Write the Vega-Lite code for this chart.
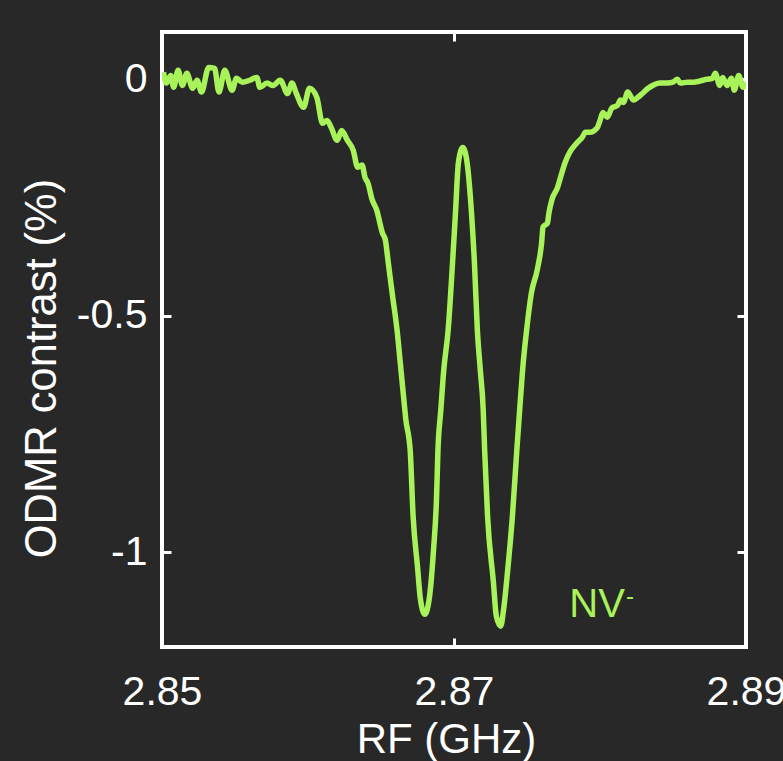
{
  "$schema": "https://vega.github.io/schema/vega-lite/v6.json",
  "width": 584,
  "height": 615,
  "autosize": {"type": "none"},
  "padding": {"left": 162, "top": 32, "right": 37, "bottom": 114},
  "background": "#282828",
  "config": {
    "font": "Liberation Sans",
    "view": {"stroke": "#ffffff", "strokeWidth": 4, "fill": "#282828"},
    "axis": {
      "domain": false,
      "grid": false,
      "tickColor": "#ffffff",
      "tickWidth": 3,
      "tickSize": -9,
      "labelColor": "#ffffff",
      "labelFont": "Liberation Sans",
      "labelFontSize": 41,
      "titleColor": "#ffffff",
      "titleFont": "Liberation Sans",
      "titleFontSize": 42,
      "titleFontWeight": "normal",
      "labelOverlap": false,
      "labelBound": false,
      "labelFlush": false
    }
  },
  "datasets": {
    "odmr": [
      {"rf": 2.8501, "c": 0.015}, {"rf": 2.8503, "c": -0.008}, {"rf": 2.8506, "c": 0.008}, {"rf": 2.8508, "c": -0.017},
      {"rf": 2.8511, "c": 0.019}, {"rf": 2.8514, "c": -0.013}, {"rf": 2.8517, "c": 0.013}, {"rf": 2.8521, "c": -0.019},
      {"rf": 2.8524, "c": -0.002}, {"rf": 2.8527, "c": -0.027}, {"rf": 2.8532, "c": 0.025}, {"rf": 2.8536, "c": 0.023},
      {"rf": 2.8539, "c": -0.027}, {"rf": 2.8543, "c": 0.019}, {"rf": 2.8548, "c": -0.023}, {"rf": 2.8551, "c": 0.002},
      {"rf": 2.8555, "c": -0.006}, {"rf": 2.8560, "c": -0.002}, {"rf": 2.8565, "c": 0.004}, {"rf": 2.8567, "c": -0.017},
      {"rf": 2.8572, "c": -0.008}, {"rf": 2.8576, "c": -0.013}, {"rf": 2.8581, "c": -0.002}, {"rf": 2.8586, "c": -0.030},
      {"rf": 2.8589, "c": -0.008}, {"rf": 2.8592, "c": -0.030}, {"rf": 2.8597, "c": -0.059}, {"rf": 2.8601, "c": -0.019},
      {"rf": 2.8606, "c": -0.038}, {"rf": 2.8610, "c": -0.093}, {"rf": 2.8613, "c": -0.087}, {"rf": 2.8616, "c": -0.103},
      {"rf": 2.8620, "c": -0.129}, {"rf": 2.8623, "c": -0.108}, {"rf": 2.8627, "c": -0.129}, {"rf": 2.8631, "c": -0.150},
      {"rf": 2.8634, "c": -0.186}, {"rf": 2.8637, "c": -0.181}, {"rf": 2.8639, "c": -0.207}, {"rf": 2.8641, "c": -0.219},
      {"rf": 2.8644, "c": -0.255}, {"rf": 2.8647, "c": -0.276}, {"rf": 2.8651, "c": -0.325}, {"rf": 2.8653, "c": -0.340},
      {"rf": 2.8655, "c": -0.388}, {"rf": 2.8658, "c": -0.460}, {"rf": 2.8661, "c": -0.530}, {"rf": 2.8663, "c": -0.593},
      {"rf": 2.8665, "c": -0.656}, {"rf": 2.8667, "c": -0.719}, {"rf": 2.8670, "c": -0.785}, {"rf": 2.8672, "c": -0.924},
      {"rf": 2.8675, "c": -1.030}, {"rf": 2.8677, "c": -1.099}, {"rf": 2.8680, "c": -1.131}, {"rf": 2.8683, "c": -1.099},
      {"rf": 2.8686, "c": -0.994}, {"rf": 2.8688, "c": -0.888}, {"rf": 2.8689, "c": -0.785}, {"rf": 2.8691, "c": -0.698},
      {"rf": 2.8693, "c": -0.614}, {"rf": 2.8696, "c": -0.530}, {"rf": 2.8699, "c": -0.388}, {"rf": 2.8701, "c": -0.283},
      {"rf": 2.8703, "c": -0.177}, {"rf": 2.8706, "c": -0.144}, {"rf": 2.8709, "c": -0.177}, {"rf": 2.8712, "c": -0.283},
      {"rf": 2.8714, "c": -0.388}, {"rf": 2.8716, "c": -0.530}, {"rf": 2.8718, "c": -0.614}, {"rf": 2.8720, "c": -0.698},
      {"rf": 2.8721, "c": -0.785}, {"rf": 2.8723, "c": -0.924}, {"rf": 2.8727, "c": -1.063}, {"rf": 2.8729, "c": -1.135},
      {"rf": 2.8732, "c": -1.156}, {"rf": 2.8734, "c": -1.120}, {"rf": 2.8737, "c": -1.030}, {"rf": 2.8740, "c": -0.924},
      {"rf": 2.8743, "c": -0.785}, {"rf": 2.8745, "c": -0.698}, {"rf": 2.8747, "c": -0.614}, {"rf": 2.8750, "c": -0.523},
      {"rf": 2.8753, "c": -0.452}, {"rf": 2.8757, "c": -0.403}, {"rf": 2.8760, "c": -0.346}, {"rf": 2.8761, "c": -0.312},
      {"rf": 2.8764, "c": -0.304}, {"rf": 2.8765, "c": -0.283}, {"rf": 2.8767, "c": -0.255}, {"rf": 2.8771, "c": -0.228},
      {"rf": 2.8773, "c": -0.207}, {"rf": 2.8776, "c": -0.177}, {"rf": 2.8779, "c": -0.156}, {"rf": 2.8784, "c": -0.135},
      {"rf": 2.8788, "c": -0.122}, {"rf": 2.8790, "c": -0.112}, {"rf": 2.8793, "c": -0.112}, {"rf": 2.8798, "c": -0.103},
      {"rf": 2.8800, "c": -0.087}, {"rf": 2.8802, "c": -0.070}, {"rf": 2.8805, "c": -0.080}, {"rf": 2.8808, "c": -0.061},
      {"rf": 2.8812, "c": -0.055}, {"rf": 2.8814, "c": -0.044}, {"rf": 2.8816, "c": -0.049}, {"rf": 2.8819, "c": -0.027},
      {"rf": 2.8823, "c": -0.044}, {"rf": 2.8826, "c": -0.038}, {"rf": 2.8829, "c": -0.030}, {"rf": 2.8833, "c": -0.019},
      {"rf": 2.8836, "c": -0.013}, {"rf": 2.8841, "c": -0.008}, {"rf": 2.8846, "c": -0.008}, {"rf": 2.8850, "c": -0.006},
      {"rf": 2.8853, "c": 0.000}, {"rf": 2.8855, "c": -0.008}, {"rf": 2.8860, "c": -0.006}, {"rf": 2.8864, "c": -0.006},
      {"rf": 2.8868, "c": -0.004}, {"rf": 2.8873, "c": 0.000}, {"rf": 2.8877, "c": 0.002}, {"rf": 2.8879, "c": 0.013},
      {"rf": 2.8882, "c": -0.013}, {"rf": 2.8884, "c": 0.004}, {"rf": 2.8887, "c": -0.013}, {"rf": 2.8890, "c": 0.002},
      {"rf": 2.8892, "c": -0.023}, {"rf": 2.8895, "c": 0.008}, {"rf": 2.8898, "c": -0.017}, {"rf": 2.8900, "c": -0.006}
    ],
    "labels": [
      {"rf": 2.8779, "c": -1.137, "t": "NV", "size": 40},
      {"rf": 2.88178, "c": -1.1097, "t": "-", "size": 24}
    ]
  },
  "layer": [
    {
      "data": {"name": "odmr"},
      "mark": {"type": "line", "color": "#a8f25a", "strokeWidth": 5.5, "interpolate": "monotone", "clip": true},
      "encoding": {
        "x": {
          "field": "rf", "type": "quantitative",
          "scale": {"domain": [2.85, 2.89], "nice": false, "zero": false},
          "axis": {
            "orient": "bottom", "values": [2.85, 2.87, 2.89], "format": ".2f",
            "labelPadding": 34, "title": "RF (GHz)",
            "titleX": 284, "titleY": 105, "titleBaseline": "alphabetic", "titleAlign": "center", "titleAnchor": null
          }
        },
        "y": {
          "field": "c", "type": "quantitative",
          "scale": {"domain": [-1.2, 0.1], "nice": false, "zero": false},
          "axis": {
            "orient": "left", "values": [-1, -0.5, 0], "labelExpr": "'' + datum.value",
            "labelPadding": 24, "title": "ODMR contrast (%)", "titleFontSize": 43.5,
            "titleX": -107, "titleY": 336, "titleAngle": -90, "titleBaseline": "alphabetic", "titleAlign": "center", "titleAnchor": null
          }
        }
      }
    },
    {
      "data": {"name": "labels"},
      "mark": {"type": "text", "color": "#a8f25a", "align": "left", "baseline": "alphabetic", "font": "Liberation Sans"},
      "encoding": {
        "x": {
          "field": "rf", "type": "quantitative",
          "axis": {"orient": "top", "values": [2.85, 2.87, 2.89], "labels": false, "title": null}
        },
        "y": {
          "field": "c", "type": "quantitative",
          "axis": {"orient": "right", "values": [-1, -0.5, 0], "labels": false, "title": null}
        },
        "text": {"field": "t"},
        "size": {"field": "size", "type": "quantitative", "scale": null, "legend": null}
      }
    }
  ],
  "resolve": {"axis": {"x": "independent", "y": "independent"}}
}
